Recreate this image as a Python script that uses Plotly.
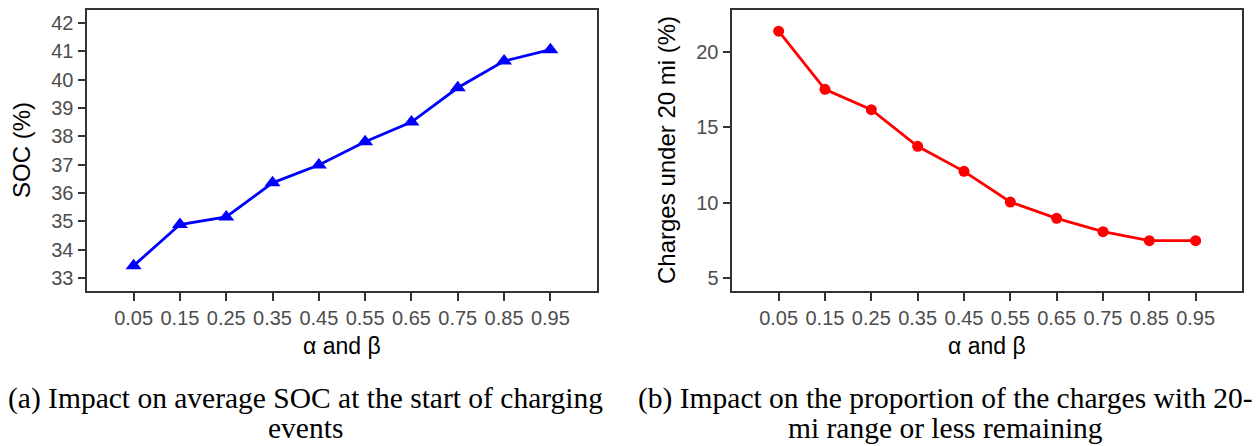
import plotly.graph_objects as go

W, H = 1259, 446

alpha_beta = [0.05, 0.15, 0.25, 0.35, 0.45, 0.55, 0.65, 0.75, 0.85, 0.95]
tick_labels = ["0.05", "0.15", "0.25", "0.35", "0.45", "0.55", "0.65", "0.75", "0.85", "0.95"]
soc_values = [33.44, 34.89, 35.16, 36.36, 36.99, 37.81, 38.50, 39.71, 40.65, 41.05]
charges_under_20mi = [21.36, 17.51, 16.16, 13.74, 12.08, 10.05, 8.97, 8.09, 7.49, 7.49]

soc_ticks = list(range(33, 43))
charge_ticks = [5, 10, 15, 20]

caption_a = ["(a) Impact on average SOC at the start of charging", "events"]
caption_b = ["(b) Impact on the proportion of the charges with 20-", "mi range or less remaining"]

SANS = "Liberation Sans, Arial, sans-serif"
SERIF = "Liberation Serif, Times New Roman, serif"
FRAME = "#333333"
TICKC = "#4d4d4d"


def px_x(x):
    return x / W


def px_y(y):
    return 1 - y / H


fig = go.Figure()
fig.add_trace(go.Scatter(
    x=alpha_beta, y=soc_values, mode="lines+markers",
    line=dict(color="#0000ff", width=2.8),
    marker=dict(symbol="triangle-up", size=14, color="#0000ff"),
    xaxis="x", yaxis="y", showlegend=False))
fig.add_trace(go.Scatter(
    x=alpha_beta, y=charges_under_20mi, mode="lines+markers",
    line=dict(color="#ff0000", width=2.8),
    marker=dict(symbol="circle", size=11, color="#ff0000"),
    xaxis="x2", yaxis="y2", showlegend=False))

ydom = [px_y(290.7), px_y(9.7)]
common_x = dict(
    range=[-0.05, 1.05], tickvals=alpha_beta, ticktext=tick_labels, tickangle=0,
    showline=True, mirror=True, linecolor=FRAME, linewidth=1.6,
    ticks="outside", ticklen=8, tickwidth=1.6, tickcolor=FRAME,
    tickfont=dict(family=SANS, size=20, color=TICKC),
    showgrid=False, zeroline=False, fixedrange=True)
common_y = dict(
    showline=True, mirror=True, linecolor=FRAME, linewidth=1.6,
    ticks="outside", ticklen=8, tickwidth=1.6, tickcolor=FRAME,
    tickfont=dict(family=SANS, size=20, color=TICKC),
    showgrid=False, zeroline=False, fixedrange=True, domain=ydom)

fig.update_layout(
    width=W, height=H, autosize=False,
    margin=dict(l=0, r=0, t=0, b=0),
    paper_bgcolor="white", plot_bgcolor="white",
    xaxis=dict(domain=[px_x(87.3), px_x(596.7)], anchor="y", **common_x),
    yaxis=dict(range=[32.56, 42.46], tickvals=soc_ticks, anchor="x", **common_y),
    xaxis2=dict(domain=[px_x(732.3), px_x(1242.0)], anchor="y2", **common_x),
    yaxis2=dict(range=[4.18, 22.78], tickvals=charge_ticks, anchor="x2", **common_y),
)

ann = []
title_font = dict(family=SANS, size=23, color="black")
ytitle_font = dict(family=SANS, size=24, color="black")
# x-axis titles
ann.append(dict(text="α and β", x=px_x(342), y=px_y(346), xref="paper", yref="paper",
                xanchor="center", yanchor="middle", showarrow=False, font=title_font))
ann.append(dict(text="α and β", x=px_x(987), y=px_y(346), xref="paper", yref="paper",
                xanchor="center", yanchor="middle", showarrow=False, font=title_font))
# y-axis titles
ann.append(dict(text="SOC (%)", x=px_x(21), y=px_y(150), xref="paper", yref="paper",
                xanchor="center", yanchor="middle", textangle=-90, showarrow=False, font=ytitle_font))
ann.append(dict(text="Charges under 20 mi (%)", x=px_x(666), y=px_y(150), xref="paper", yref="paper",
                xanchor="center", yanchor="middle", textangle=-90, showarrow=False, font=ytitle_font))
# captions
cap_font = dict(family=SERIF, size=29.5, color="black")
for lines, cx in ((caption_a, 305), (caption_b, 945)):
    for i, line in enumerate(lines):
        ann.append(dict(text=line, x=px_x(cx), y=px_y(398 + 30 * i), xref="paper", yref="paper",
                        xanchor="center", yanchor="middle", showarrow=False, font=cap_font))
fig.update_layout(annotations=ann)

fig.write_html("out.html")
